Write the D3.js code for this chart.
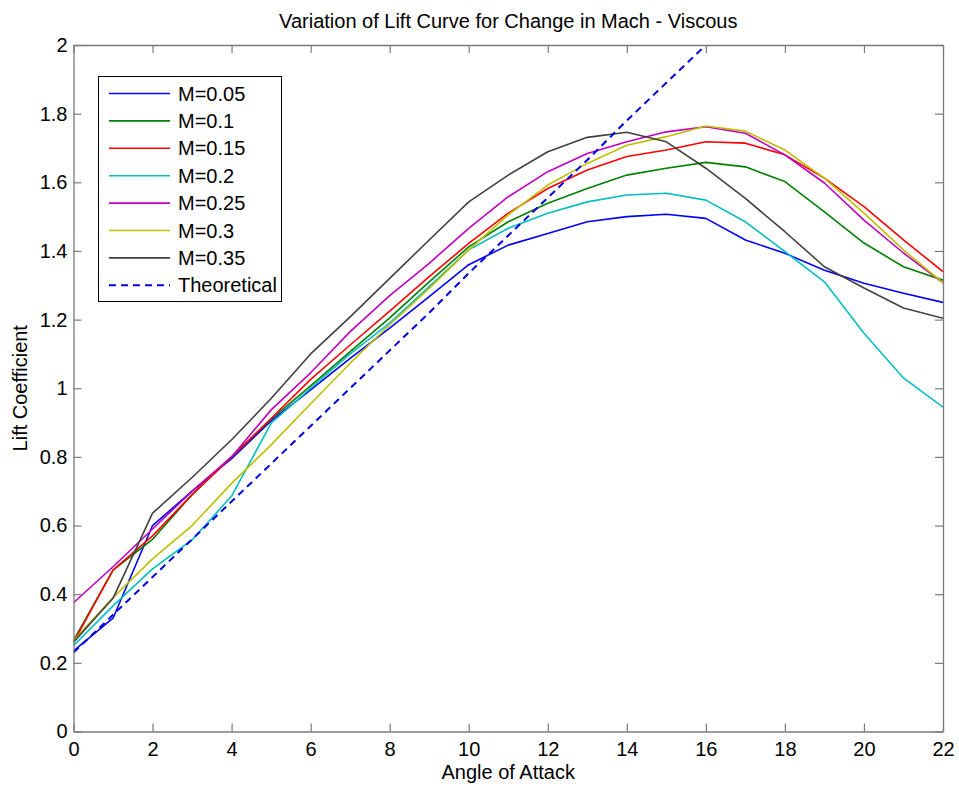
<!DOCTYPE html>
<html>
<head>
<meta charset="utf-8">
<script src="https://cdn.jsdelivr.net/npm/d3@7"></script>
<style>
  html, body { margin: 0; padding: 0; background: #fff; }
  svg { display: block; font-family: Arial, "Liberation Sans", Helvetica, sans-serif; }
</style>
</head>
<body>
<svg id="chart" width="959" height="787"></svg>
<script>
// ---------------- data ----------------
const angles = [0,1,2,3,4,5,6,7,8,9,10,11,12,13,14,15,16,17,18,19,20,21,22];
const m005 = [0.235,0.33,0.60,0.70,0.795,0.905,0.995,1.087,1.175,1.267,1.36,1.417,1.451,1.485,1.50,1.507,1.495,1.432,1.393,1.344,1.306,1.277,1.25];
const m010 = [0.265,0.47,0.56,0.69,0.80,0.91,1.007,1.107,1.205,1.31,1.412,1.485,1.539,1.582,1.621,1.641,1.658,1.645,1.602,1.514,1.423,1.354,1.315];
const m015 = [0.26,0.47,0.57,0.69,0.80,0.912,1.026,1.126,1.225,1.325,1.422,1.51,1.582,1.636,1.675,1.694,1.718,1.714,1.68,1.612,1.529,1.432,1.34];
const m020 = [0.25,0.366,0.474,0.558,0.686,0.898,1.0,1.10,1.19,1.296,1.403,1.466,1.51,1.543,1.563,1.568,1.548,1.485,1.398,1.31,1.16,1.03,0.945];
const m025 = [0.375,0.48,0.59,0.70,0.80,0.937,1.045,1.165,1.27,1.364,1.466,1.558,1.631,1.684,1.718,1.747,1.762,1.743,1.68,1.598,1.49,1.394,1.307];
const m030 = [0.265,0.39,0.503,0.60,0.723,0.835,0.955,1.073,1.185,1.291,1.403,1.505,1.592,1.655,1.708,1.733,1.764,1.749,1.694,1.612,1.51,1.403,1.307];
const m035 = [0.26,0.388,0.636,0.74,0.85,0.97,1.10,1.208,1.32,1.432,1.543,1.621,1.689,1.731,1.746,1.718,1.641,1.553,1.456,1.354,1.292,1.234,1.204];
const theoretical = [0.23,0.34,0.45,0.56,0.67,0.78,0.89,1.0,1.11,1.22,1.335,1.445,1.555,1.665,1.78,1.89,2.0,2.11,2.22,2.33,2.44,2.55,2.66];
const seriesNames = ["M=0.05","M=0.1","M=0.15","M=0.2","M=0.25","M=0.3","M=0.35","Theoretical"];
const xTicks = [0,2,4,6,8,10,12,14,16,18,20,22];
const yTicks = [0,0.2,0.4,0.6,0.8,1,1.2,1.4,1.6,1.8,2];
const titleText = "Variation of Lift Curve for Change in Mach - Viscous";
const xLabelText = "Angle of Attack";
const yLabelText = "Lift Coefficient";

// ---------------- styles ----------------
const seriesValues = [m005, m010, m015, m020, m025, m030, m035, theoretical];
const colors = ["#0000ff","#008000","#ff0000","#00bfbf","#bf00bf","#bfbf00","#404040","#0000e0"];
const dashes = [null,null,null,null,null,null,null,"7,5"];

const margin = {left: 73.5, right: 943, top: 45, bottom: 731.5};
const fs = 20;
const axisColor = "#7a7a7a";

const svg = d3.select("#chart");
const x = d3.scaleLinear().domain([0, 22]).range([margin.left, margin.right]);
const y = d3.scaleLinear().domain([0, 2]).range([margin.bottom, margin.top]);

svg.append("rect").attr("width", 959).attr("height", 787).attr("fill", "#fff");

svg.append("defs").append("clipPath").attr("id", "plotclip")
  .append("rect")
  .attr("x", margin.left).attr("y", margin.top)
  .attr("width", margin.right - margin.left).attr("height", margin.bottom - margin.top);

// lines
const line = d3.line().x((d, i) => x(angles[i])).y(d => y(d));
const g = svg.append("g").attr("clip-path", "url(#plotclip)");
seriesValues.forEach((vals, k) => {
  g.append("path")
    .datum(vals)
    .attr("d", line)
    .attr("fill", "none")
    .attr("stroke", colors[k])
    .attr("stroke-width", k === 7 ? 2 : 1.6)
    .attr("stroke-dasharray", dashes[k])
    .attr("stroke-linejoin", "round");
});

// axes
function styleAxis(sel, showText) {
  sel.selectAll(".domain").attr("stroke", axisColor).attr("stroke-width", 1.3);
  sel.selectAll(".tick line").attr("stroke", axisColor).attr("stroke-width", 1.2);
  sel.selectAll(".tick text").attr("fill", "#000").style("font-size", fs + "px")
     .style("font-family", "Arial, 'Liberation Sans', sans-serif");
  if (!showText) sel.selectAll(".tick text").remove();
}
const fmt = d3.format("~g");
svg.append("g").attr("transform", `translate(0,${margin.bottom})`)
  .call(d3.axisBottom(x).tickValues(xTicks).tickFormat(fmt).tickSizeInner(-8).tickSizeOuter(0).tickPadding(10))
  .call(s => styleAxis(s, true));
svg.append("g").attr("transform", `translate(0,${margin.top})`)
  .call(d3.axisTop(x).tickValues(xTicks).tickSizeInner(-8).tickSizeOuter(0))
  .call(s => styleAxis(s, false));
svg.append("g").attr("transform", `translate(${margin.left},0)`)
  .call(d3.axisLeft(y).tickValues(yTicks).tickFormat(fmt).tickSizeInner(-8).tickSizeOuter(0).tickPadding(6))
  .call(s => styleAxis(s, true));
svg.append("g").attr("transform", `translate(${margin.right},0)`)
  .call(d3.axisRight(y).tickValues(yTicks).tickSizeInner(-8).tickSizeOuter(0))
  .call(s => styleAxis(s, false));

// title & labels
svg.append("text").attr("x", (margin.left + margin.right) / 2).attr("y", 28)
  .attr("text-anchor", "middle").style("font-size", fs + "px").text(titleText);
svg.append("text").attr("x", (margin.left + margin.right) / 2).attr("y", 779)
  .attr("text-anchor", "middle").style("font-size", fs + "px").text(xLabelText);
svg.append("text")
  .attr("transform", `translate(27,${(margin.top + margin.bottom) / 2}) rotate(-90)`)
  .attr("text-anchor", "middle").style("font-size", fs + "px").text(yLabelText);

// legend
const lg = svg.append("g");
lg.append("rect").attr("x", 98.5).attr("y", 76.5).attr("width", 183).attr("height", 225)
  .attr("fill", "#fff").attr("stroke", "#000").attr("stroke-width", 1);
seriesNames.forEach((name, k) => {
  const yy = 93.5 + k * 27.4;
  lg.append("line").attr("x1", 109).attr("x2", 170).attr("y1", yy).attr("y2", yy)
    .attr("stroke", colors[k]).attr("stroke-width", k === 7 ? 2 : 1.6)
    .attr("stroke-dasharray", dashes[k]);
  lg.append("text").attr("x", 178).attr("y", yy).attr("dy", "0.35em")
    .style("font-size", fs + "px").text(name);
});
</script>
</body>
</html>
